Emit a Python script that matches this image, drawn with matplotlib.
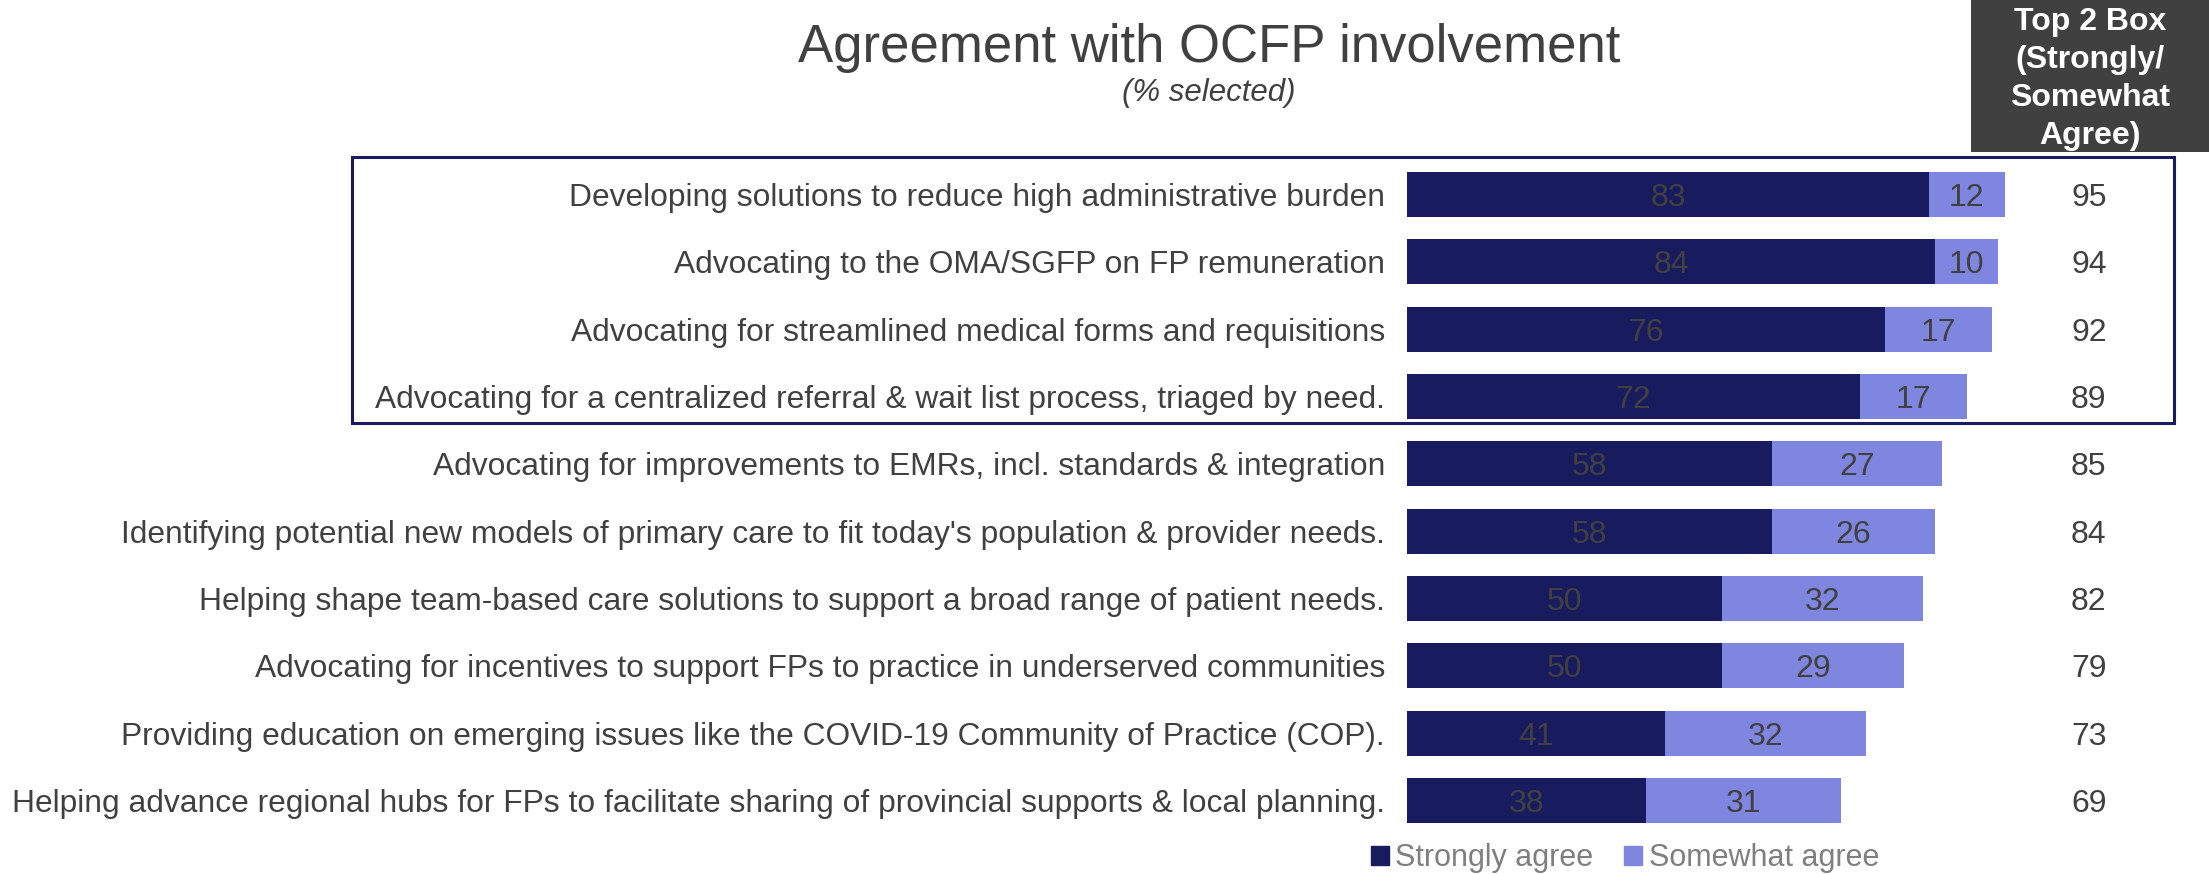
import matplotlib
matplotlib.use("Agg")
import matplotlib.pyplot as plt
from matplotlib.patches import Rectangle, Patch

plt.rcParams['font.family'] = ['Liberation Sans', 'DejaVu Sans']

# data (top to bottom)
statements = [
    "Developing solutions to reduce high administrative burden",
    "Advocating to the OMA/SGFP on FP remuneration",
    "Advocating for streamlined medical forms and requisitions",
    "Advocating for a centralized referral & wait list process, triaged by need.",
    "Advocating for improvements to EMRs, incl. standards & integration",
    "Identifying potential new models of primary care to fit today's population & provider needs.",
    "Helping shape team-based care solutions to support a broad range of patient needs.",
    "Advocating for incentives to support FPs to practice in underserved communities",
    "Providing education on emerging issues like the COVID-19 Community of Practice (COP).",
    "Helping advance regional hubs for FPs to facilitate sharing of provincial supports & local planning.",
]
strongly = [83, 84, 76, 72, 58, 58, 50, 50, 41, 38]
somewhat = [12, 10, 17, 17, 27, 26, 32, 29, 32, 31]
top2 = [95, 94, 92, 89, 85, 84, 82, 79, 73, 69]

DARK = '#191b5f'
LIGHT = '#7f86e0'
TXT = '#404040'

W, H = 2209, 874
fig = plt.figure(figsize=(W / 100, H / 100), dpi=100)

# axes placed in pixel terms
ax_left, ax_right = 1407, 2036
ax_top, ax_bot = 160.8, 834.2
ax = fig.add_axes([ax_left / W, 1 - ax_bot / H, (ax_right - ax_left) / W, (ax_bot - ax_top) / H])

y = list(range(len(statements)))
ax.barh(y, strongly, height=0.67, color=DARK, label='Strongly agree')
ax.barh(y, somewhat, left=strongly, height=0.67, color=LIGHT, label='Somewhat agree')

for i in y:
    ax.text(strongly[i] / 2, i, str(strongly[i]), ha='center', va='center_baseline',
            fontsize=23, color=TXT)
    ax.text(strongly[i] + somewhat[i] / 2, i, str(somewhat[i]), ha='center',
            va='center_baseline', fontsize=23, color=TXT)
    ax.text(108.4, i, str(top2[i]), ha='center', va='center_baseline', fontsize=23,
            color=TXT, clip_on=False)

ax.set_xlim(0, 100)
ax.set_ylim(len(statements) - 0.5, -0.5)
ax.set_yticks(y)
ax.set_yticklabels(statements, fontsize=22.9, color=TXT)
ax.tick_params(axis='y', length=0, pad=15.8)
ax.set_xticks([])
for s in ax.spines.values():
    s.set_visible(False)

# highlight box around the top four
fig.patches.append(Rectangle((352 / W, 1 - 423 / H), (2174 - 352) / W, (423 - 157) / H,
                             transform=fig.transFigure, fill=False,
                             edgecolor='#1a1a5e', linewidth=2.2))

# header box for Top 2
fig.patches.append(Rectangle((1971 / W, 1 - 152 / H), (W - 1971) / W, 152 / H,
                             transform=fig.transFigure, facecolor='#404040',
                             edgecolor='none'))
fig.text(2090 / W, 1 - 79 / H, "Top 2 Box\n(Strongly/\nSomewhat\nAgree)",
         ha='center', va='center', fontsize=23, fontweight='bold', color='white',
         linespacing=1.36)

fig.text(1209 / W, 1 - 62 / H, "Agreement with OCFP involvement", ha='center',
         va='baseline', fontsize=38, color=TXT)
fig.text(1209 / W, 1 - 101 / H, "(% selected)", ha='center', va='baseline',
         fontsize=22.5, style='italic', color=TXT)

handles = [Patch(color=DARK), Patch(color=LIGHT)]
fig.legend(handles, ['Strongly agree', 'Somewhat agree'], loc='center',
           bbox_to_anchor=(1625 / W, 1 - 858 / H), ncol=2, frameon=False,
           fontsize=22, labelcolor='#7f7f7f', handlelength=0.6, handleheight=0.6,
           handletextpad=0.2, columnspacing=1.0, borderpad=0)

fig.savefig('out.png', dpi=100)
